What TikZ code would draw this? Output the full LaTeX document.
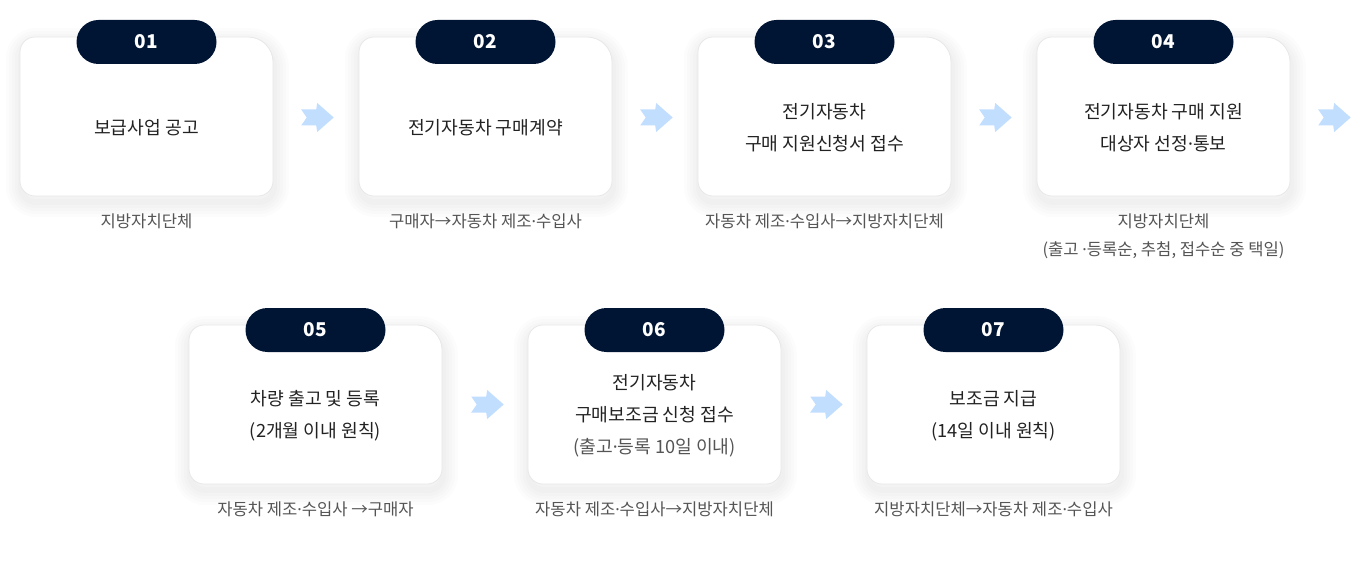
\documentclass[tikz,border=0pt]{standalone}
\usepackage{fontspec}
\setmainfont{Noto Sans CJK KR}
\newfontfamily\dotfont{Noto Sans}
\newcommand\md{{\dotfont ·}}
\usetikzlibrary{calc}
\definecolor{navy}{HTML}{001533}
\definecolor{arrowblue}{HTML}{C2DEFF}
\definecolor{maintext}{HTML}{222222}
\definecolor{captext}{HTML}{555555}
\definecolor{cardline}{HTML}{E8E8E8}
\tikzset{
 cardframe/.style={draw=cardline, line width=0.8pt, fill=white},
 cardshadow/.style={draw=black, draw opacity=0.010, line width=#1, fill=none},
 cardnode/.style={rectangle, minimum width=253pt, minimum height=159pt, inner sep=0pt},
 pill/.style={rectangle, rounded corners=22pt, fill=navy, minimum width=140pt, minimum height=44pt,
   inner sep=0pt, text=white, font=\fontsize{19}{20}\selectfont\bfseries},
 maintxt/.style={text=maintext, font=\fontsize{18.2}{32}\selectfont, align=center, inner sep=0pt},
 captxt/.style={text=captext, font=\fontsize{16.6}{28}\selectfont, align=center, inner sep=0pt},
 flowarrow/.pic={\fill[arrowblue] (0,-8) -- (15,-8) -- (16,-14.5) -- (32.5,0) -- (16,14.5) -- (15,8) -- (0,8) -- (5.5,0) -- cycle;}
}
\newcommand\cardpath[2]{(#1,#2) ++(0,15) arc[start angle=180,end angle=270,radius=15]
   -- ++(213,0) arc[start angle=270,end angle=360,radius=25]
   -- ++(0,119) arc[start angle=0,end angle=90,radius=15]
   -- ++(-223,0) arc[start angle=90,end angle=180,radius=15] -- cycle}
\newcommand\flowcard[6]{%
 \foreach \w in {30,24,18,12,6} {\path[cardshadow=\w pt] \cardpath{#2+1}{#3+6};}
 \path[cardframe] \cardpath{#2}{#3};
 \node[cardnode] (#1) at ($(#2,#3)+(126.5,79.5)$) {};
 \node[pill] (#1-num) at ($(#2,#3)+(126.5,5)$) {#4};
 \node[maintxt] (#1-txt) at ($(#2,#3)+(126.5,91)$) {#5};
 \node[captxt, anchor=north] (#1-cap) at ($(#2,#3)+(126.5,177)$) {#6};
}
\begin{document}
\begin{tikzpicture}[x=1pt,y=-1pt]
\useasboundingbox (0,0) rectangle (1367,561);
\fill[white] (0,0) rectangle (1367,561);
\flowcard{c1}{20}{37}{01}{보급사업 공고}{지방자치단체}
\flowcard{c2}{359}{37}{02}{전기자동차 구매계약}{구매자→자동차 제조\md 수입사}
\flowcard{c3}{698}{37}{03}{전기자동차\\구매 지원신청서 접수}{자동차 제조\md 수입사→지방자치단체}
\flowcard{c4}{1037}{37}{04}{전기자동차 구매 지원\\대상자 선정\md 통보}{지방자치단체\\(출고 \md 등록순, 추첨, 접수순 중 택일)}
\flowcard{c5}{189}{325}{05}{차량 출고 및 등록\\(2개월 이내 원칙)}{자동차 제조\md 수입사 →구매자}
\flowcard{c6}{528}{325}{06}{전기자동차\\구매보조금 신청 접수\\\textcolor{captext}{(출고\md 등록 10일 이내)}}{자동차 제조\md 수입사→지방자치단체}
\flowcard{c7}{867}{325}{07}{보조금 지급\\(14일 이내 원칙)}{지방자치단체→자동차 제조\md 수입사}
\path ($(c1.east)+(28,1)$) pic {flowarrow};
\path ($(c2.east)+(28,1)$) pic {flowarrow};
\path ($(c3.east)+(28,1)$) pic {flowarrow};
\path ($(c4.east)+(28,1)$) pic {flowarrow};
\path ($(c5.east)+(29,0)$) pic {flowarrow};
\path ($(c6.east)+(29,0)$) pic {flowarrow};
\end{tikzpicture}
\end{document}
